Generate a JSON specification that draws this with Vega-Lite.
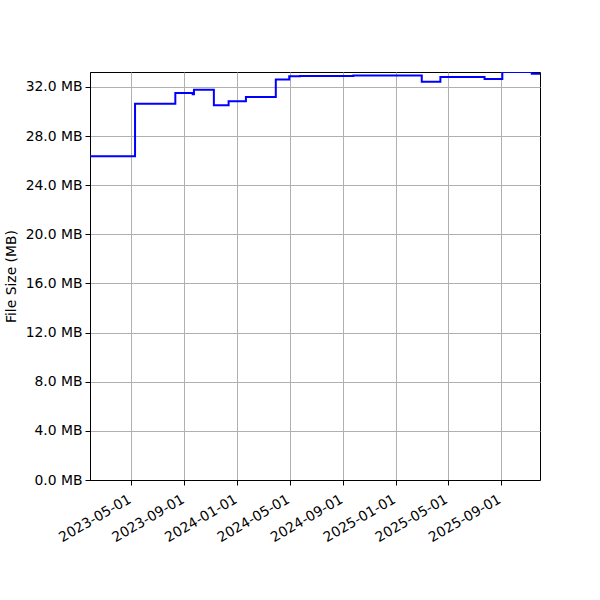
{
  "$schema": "https://vega.github.io/schema/vega-lite/v6.json",
  "autosize": {"type": "none"},
  "padding": {"left": 90, "top": 72, "right": 60, "bottom": 120},
  "width": 450,
  "height": 408,
  "background": "white",
  "config": {
    "font": "DejaVu Sans",
    "view": {"stroke": "black", "strokeWidth": 1},
    "axis": {
      "labelFont": "DejaVu Sans",
      "titleFont": "DejaVu Sans",
      "labelFontSize": 13.9,
      "titleFontSize": 13.9,
      "labelColor": "black",
      "titleColor": "black",
      "titleFontWeight": "normal",
      "tickColor": "black",
      "tickSize": 5,
      "domainColor": "black",
      "gridColor": "#b0b0b0",
      "gridWidth": 1,
      "labelOverlap": false
    }
  },
  "data": {
    "values": [
      {"date": "2023-01-26", "size": 26.36},
      {"date": "2023-05-10", "size": 30.64},
      {"date": "2023-08-11", "size": 31.51},
      {"date": "2023-09-20", "size": 31.40},
      {"date": "2023-09-23", "size": 31.78},
      {"date": "2023-11-08", "size": 30.51},
      {"date": "2023-12-12", "size": 30.84},
      {"date": "2024-01-21", "size": 31.19},
      {"date": "2024-03-30", "size": 32.60},
      {"date": "2024-04-30", "size": 32.87},
      {"date": "2024-05-25", "size": 32.90},
      {"date": "2024-09-25", "size": 32.93},
      {"date": "2025-03-02", "size": 32.43},
      {"date": "2025-04-14", "size": 32.82},
      {"date": "2025-07-25", "size": 32.65},
      {"date": "2025-09-04", "size": 33.22},
      {"date": "2025-11-11", "size": 33.08},
      {"date": "2025-11-30", "size": 33.08}
    ]
  },
  "mark": {"type": "line", "interpolate": "step-after", "color": "#0000ff", "strokeWidth": 2, "clip": true},
  "encoding": {
    "x": {
      "field": "date",
      "type": "temporal",
      "scale": {
        "type": "utc",
        "domain": [
          {"year": 2023, "month": 1, "date": 26, "utc": true},
          {"year": 2025, "month": 11, "date": 30, "utc": true}
        ],
        "nice": false
      },
      "axis": {
        "title": null,
        "format": "%Y-%m-%d",
        "labelAngle": -30,
        "labelAlign": "right",
        "labelBaseline": "top",
        "labelPadding": 7,
        "labelOffset": -5,
        "labelOverlap": false,
        "values": [
          {"year": 2023, "month": 5, "date": 1, "utc": true},
          {"year": 2023, "month": 9, "date": 1, "utc": true},
          {"year": 2024, "month": 1, "date": 1, "utc": true},
          {"year": 2024, "month": 5, "date": 1, "utc": true},
          {"year": 2024, "month": 9, "date": 1, "utc": true},
          {"year": 2025, "month": 1, "date": 1, "utc": true},
          {"year": 2025, "month": 5, "date": 1, "utc": true},
          {"year": 2025, "month": 9, "date": 1, "utc": true}
        ]
      }
    },
    "y": {
      "field": "size",
      "type": "quantitative",
      "scale": {"domain": [0, 33.22], "nice": false, "zero": true},
      "axis": {
        "title": "File Size (MB)",
        "values": [0, 4, 8, 12, 16, 20, 24, 28, 32],
        "labelExpr": "format(datum.value, '.1f') + ' MB'",
        "labelPadding": 3,
        "titlePadding": 7
      }
    }
  }
}
